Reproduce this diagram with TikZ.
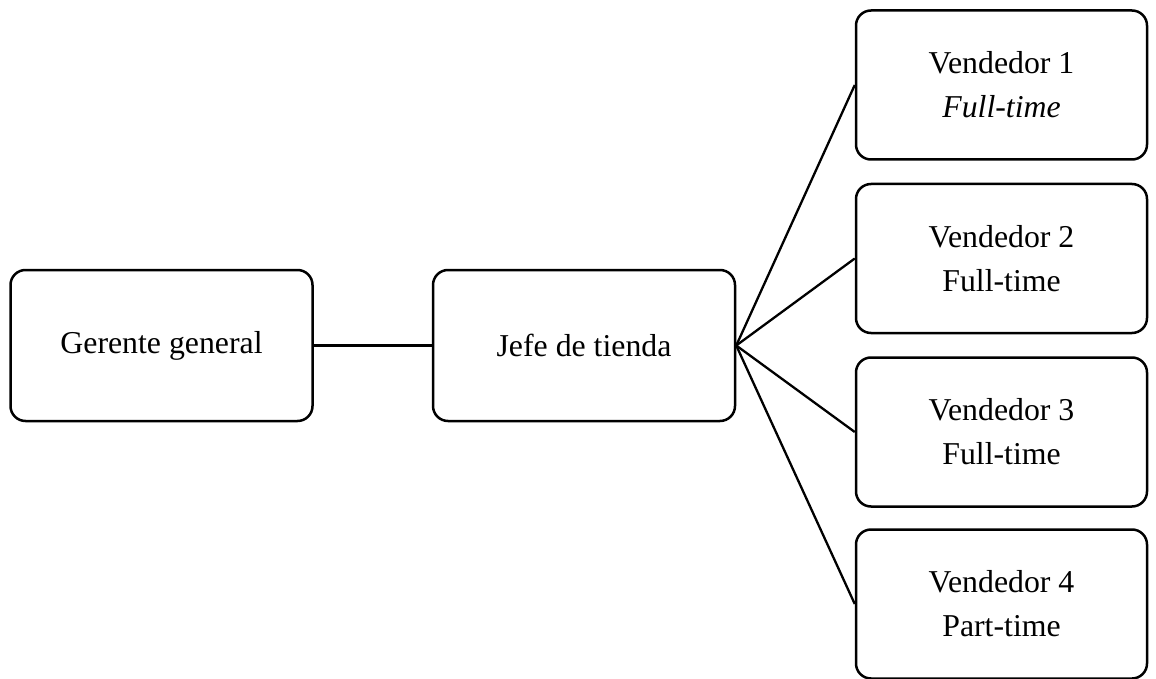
\documentclass[tikz,border=0pt]{standalone}
\usepackage{fontspec}
\setmainfont{Liberation Serif}
\begin{document}
\begin{tikzpicture}[x=1pt,y=-1pt,
  box/.style={draw,line width=2.5pt,rounded corners=15pt,minimum width=302pt,minimum height=151pt,align=center,inner sep=0pt,
    font=\fontsize{31.8pt}{44pt}\selectfont},
  vbox/.style={box,minimum width=291pt,minimum height=149pt},
  link/.style={line width=2.3pt}]
\clip (0,0) rectangle (1156,679);
\useasboundingbox (0,0) rectangle (1156,679);
\node[box] (g) at (161.5,345.5) {Gerente general};
\node[box] (j) at (584,345.5) {Jefe de tienda};
\node[vbox] (v1) at (1001.5,85) {Vendedor 1\\\textit{Full-time}};
\node[vbox] (v2) at (1001.5,258.5) {Vendedor 2\\Full-time};
\node[vbox] (v3) at (1001.5,432) {Vendedor 3\\Full-time};
\node[vbox] (v4) at (1001.5,604) {Vendedor 4\\Part-time};
\draw[link] (g.east) -- (j.west);
\foreach \v in {v1,v2,v3,v4} \draw[link] (j.east) -- (\v.west);
\end{tikzpicture}
\end{document}
